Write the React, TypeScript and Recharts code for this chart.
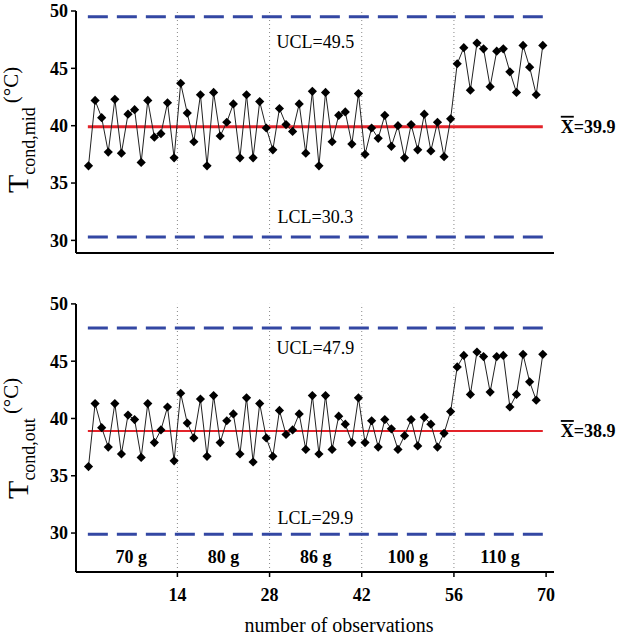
import { ComposedChart, Line, Scatter, XAxis, YAxis, ReferenceLine } from 'recharts'

const SERIF = '"Liberation Serif", "Times New Roman", serif'

// condenser mid temperature, 70 observations (14 per refrigerant charge)
const midTemps = [
  36.5, 42.2, 40.7, 37.7, 42.3, 37.6, 41.0, 41.4, 36.8, 42.2, 39.0, 39.3, 42.0, 37.2,
  43.7, 41.1, 38.6, 42.7, 36.5, 42.9, 39.1, 40.3, 41.9, 37.2, 42.7, 37.2, 42.1, 39.8,
  37.9, 41.5, 40.1, 39.5, 41.9, 37.6, 43.0, 36.5, 42.9, 38.6, 40.9, 41.2, 38.4, 42.8,
  37.5, 39.8, 38.9, 40.9, 38.2, 40.0, 37.2, 40.1, 37.9, 41.0, 37.8, 40.3, 37.3, 40.6,
  45.4, 46.8, 43.1, 47.2, 46.7, 43.4, 46.5, 46.7, 44.7, 42.9, 47.0, 45.1, 42.7, 47.0,
]

// condenser outlet temperature
const outTemps = [
  35.8, 41.3, 39.2, 37.5, 41.3, 36.9, 40.3, 39.9, 36.6, 41.3, 37.9, 39.0, 41.0, 36.3,
  42.2, 39.6, 38.3, 41.7, 36.7, 42.0, 37.9, 39.8, 40.4, 36.9, 41.8, 36.2, 41.3, 38.3,
  36.7, 40.7, 38.6, 39.0, 40.4, 37.3, 42.0, 36.9, 42.0, 37.3, 40.2, 39.5, 37.9, 41.8,
  37.9, 39.8, 37.5, 39.9, 39.1, 37.3, 38.5, 39.9, 37.6, 40.1, 39.5, 37.5, 38.7, 40.6,
  44.5, 45.5, 42.1, 45.8, 45.4, 42.3, 45.4, 45.5, 41.0, 42.1, 45.6, 43.2, 41.6, 45.6,
]

const midLimits = { ucl: 49.5, mean: 39.9, lcl: 30.3 }
const outLimits = { ucl: 47.9, mean: 38.9, lcl: 29.9 }

const xTicks = [14, 28, 42, 56, 70]
const yTicks = [30, 35, 40, 45, 50]
const massLabels = ['70 g', '80 g', '86 g', '100 g', '110 g']
const massCentres = [7, 21, 35, 49, 63]

const X_DOMAIN: [number, number] = [-1.4, 71.2]
const LINE_SPAN: [number, number] = [0.4, 69.5]

const toRows = (vals: number[]) => vals.map((v, i) => ({ x: i + 0.5, v }))

function Diamond(props: any) {
  const { cx, cy } = props
  if (cx == null || cy == null) return null
  const r = 4.6
  return (
    <polygon
      points={`${cx},${cy - r} ${cx + r},${cy} ${cx},${cy + r} ${cx - r},${cy}`}
      fill="#000"
    />
  )
}

const limitLabel = (text: string, dy: number) => (props: any) => {
  const vb = props.viewBox
  if (!vb) return null
  return (
    <text
      x={vb.x + vb.width / 2}
      y={vb.y + dy}
      textAnchor="middle"
      fontFamily={SERIF}
      fontSize={18}
      fill="#000"
    >
      {text}
    </text>
  )
}

const meanLabel = (value: number) => (props: any) => {
  const vb = props.viewBox
  if (!vb) return null
  return (
    <text
      x={vb.x + vb.width + 18}
      y={vb.y + 6}
      fontFamily={SERIF}
      fontSize={18}
      fontWeight="bold"
      fill="#000"
    >
      <tspan style={{ textDecoration: 'overline' }}>X</tspan>
      <tspan>={value.toFixed(1)}</tspan>
    </text>
  )
}

const yLabel = (sub: string) => (props: any) => {
  const vb = props.viewBox
  if (!vb) return null
  const cy = vb.y + vb.height / 2 + 61
  return (
    <text transform={`translate(28, ${cy}) rotate(-90)`} fontFamily={SERIF} fill="#000">
      <tspan fontSize={30}>T</tspan>
      <tspan fontSize={18} dy={7}>
        {sub}
      </tspan>
      <tspan fontSize={21} dy={-17} dx={4}>
        (°C)
      </tspan>
    </text>
  )
}

function Panel({
  data,
  limits,
  sub,
  yDomain,
  height,
  top,
  showX,
  meanWidth,
  uclDy,
  lclDy,
}: {
  data: number[]
  limits: { ucl: number; mean: number; lcl: number }
  sub: string
  yDomain: [number, number]
  height: number
  top: number
  showX: boolean
  meanWidth: number
  uclDy: number
  lclDy: number
}) {
  const rows = toRows(data)
  const massRows = massLabels.map((m, i) => ({ x: massCentres[i], y: 27.35, label: m }))
  return (
    <ComposedChart
      width={619}
      height={height}
      data={rows}
      margin={{ top, right: 65, bottom: 0, left: 0 }}
      style={{ position: 'absolute', left: 0, top: showX ? 280 : 0 }}
    >
      <XAxis
        dataKey="x"
        type="number"
        domain={X_DOMAIN}
        ticks={xTicks}
        allowDataOverflow
        height={showX ? 68 : 27}
        axisLine={{ stroke: '#000', strokeWidth: 2 }}
        tickLine={showX ? { stroke: '#000', strokeWidth: 1.5 } : false}
        tickSize={5}
        tickMargin={11}
        tick={
          showX
            ? { fill: '#000', fontSize: 18, fontWeight: 'bold', fontFamily: SERIF }
            : false
        }
        label={
          showX
            ? (props: any) => {
                const vb = props.viewBox
                if (!vb) return null
                return (
                  <text
                    x={vb.x + vb.width / 2 + 24}
                    y={vb.y + vb.height - 8}
                    textAnchor="middle"
                    fontFamily={SERIF}
                    fontSize={20}
                    fill="#000"
                  >
                    number of observations
                  </text>
                )
              }
            : undefined
        }
      />
      <YAxis
        type="number"
        domain={yDomain}
        ticks={yTicks}
        allowDataOverflow
        width={76}
        axisLine={{ stroke: '#000', strokeWidth: 2 }}
        tickLine={{ stroke: '#000', strokeWidth: 1.5 }}
        tickSize={5}
        tickMargin={3}
        tick={{ fill: '#000', fontSize: 18, fontWeight: 'bold', fontFamily: SERIF }}
        label={yLabel(sub)}
      />
      {xTicks.slice(0, 4).map((t) => (
        <ReferenceLine key={t} x={t} stroke="#888" strokeWidth={1} strokeDasharray="1 3" />
      ))}
      <ReferenceLine
        segment={[
          { x: LINE_SPAN[0], y: limits.ucl },
          { x: LINE_SPAN[1], y: limits.ucl },
        ]}
        stroke="#3347a3"
        strokeWidth={3}
        strokeDasharray="20 9"
        label={limitLabel(`UCL=${limits.ucl.toFixed(1)}`, uclDy)}
      />
      <ReferenceLine
        segment={[
          { x: LINE_SPAN[0], y: limits.lcl },
          { x: LINE_SPAN[1], y: limits.lcl },
        ]}
        stroke="#3347a3"
        strokeWidth={3}
        strokeDasharray="20 9"
        label={limitLabel(`LCL=${limits.lcl.toFixed(1)}`, lclDy)}
      />
      <ReferenceLine
        segment={[
          { x: LINE_SPAN[0], y: limits.mean },
          { x: LINE_SPAN[1], y: limits.mean },
        ]}
        stroke="#e3232a"
        strokeWidth={meanWidth}
        label={meanLabel(limits.mean)}
      />
      <Line
        dataKey="v"
        stroke="#222"
        strokeWidth={1}
        dot={<Diamond />}
        activeDot={false}
        isAnimationActive={false}
      />
      {showX && (
        <Scatter
          data={massRows}
          dataKey="y"
          isAnimationActive={false}
          shape={(p: any) => (
            <text
              x={p.cx}
              y={p.cy}
              textAnchor="middle"
              fontFamily={SERIF}
              fontSize={18}
              fontWeight="bold"
              fill="#000"
            >
              {p.payload.label}
            </text>
          )}
        />
      )}
    </ComposedChart>
  )
}

export default function App() {
  return (
    <div
      style={{
        position: 'absolute',
        left: 0,
        top: 0,
        width: 619,
        height: 640,
        background: '#fff',
        overflow: 'hidden',
      }}
    >
      <Panel
        data={midTemps}
        limits={midLimits}
        sub="cond,mid"
        yDomain={[28.9, 50]}
        height={280}
        top={11}
        showX={false}
        meanWidth={3}
        uclDy={31}
        lclDy={-14}
      />
      <Panel
        data={outTemps}
        limits={outLimits}
        sub="cond,out"
        yDomain={[26.6, 50]}
        height={360}
        top={23.9}
        showX
        meanWidth={2}
        uclDy={26}
        lclDy={-10}
      />
    </div>
  )
}
